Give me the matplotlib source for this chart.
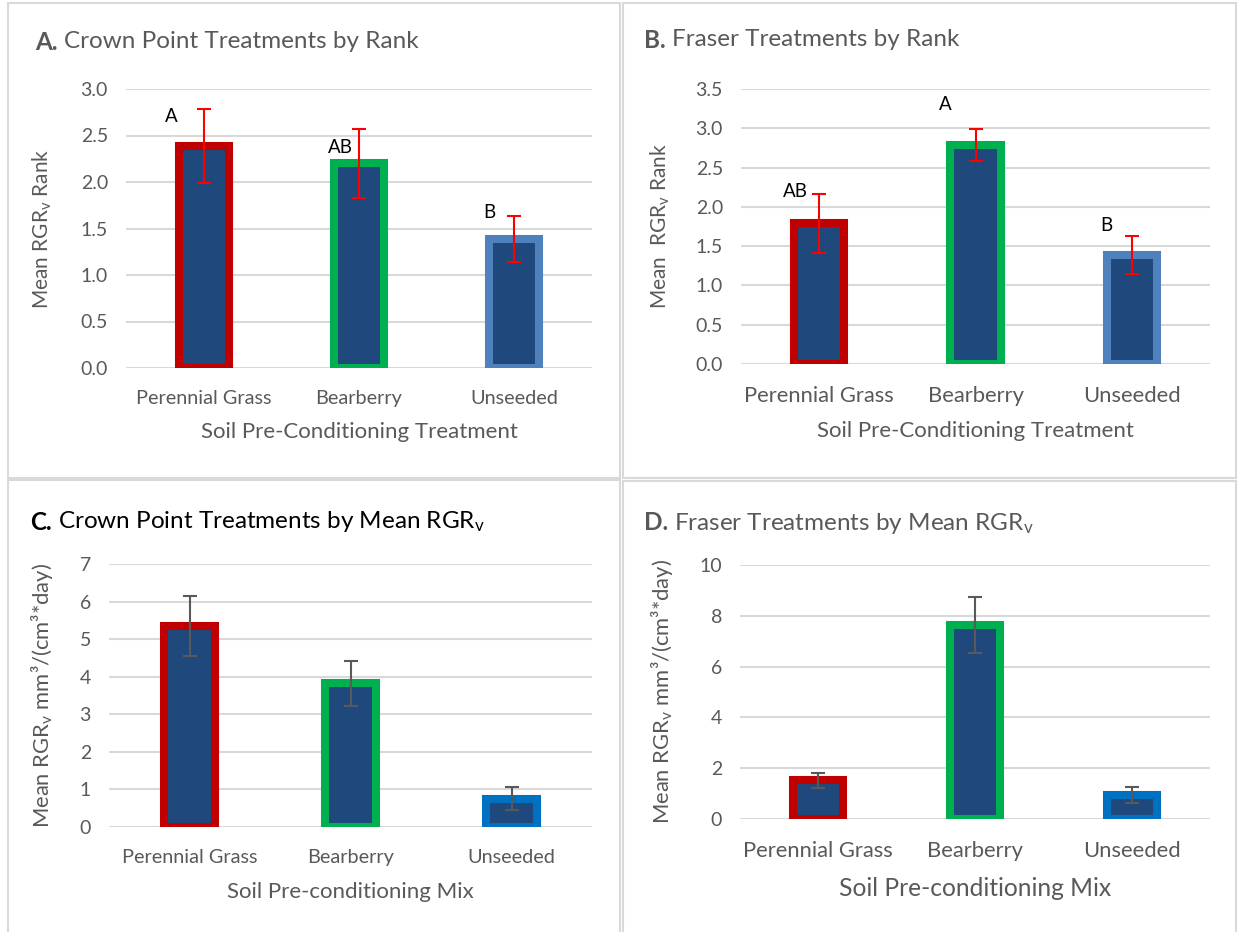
import matplotlib

matplotlib.use("Agg")
import matplotlib.pyplot as plt
from matplotlib.patches import Rectangle

W, H = 1238, 932

CATEGORIES = ["Perennial Grass", "Bearberry", "Unseeded"]

# panel A: Crown Point, by rank
RANK_CP = [2.39, 2.20, 1.39]
RANK_CP_ERR = [0.40, 0.37, 0.245]
RANK_CP_LETTERS = ["A", "AB", "B"]
RANK_CP_LETTER_POS = [(-0.21, 2.70), (0.88, 2.37), (1.84, 1.67)]

# panel B: Fraser, by rank
RANK_FR = [1.79, 2.79, 1.39]
RANK_FR_ERR = [0.375, 0.20, 0.245]
RANK_FR_LETTERS = ["AB", "A", "B"]
RANK_FR_LETTER_POS = [(-0.15, 2.19), (0.81, 3.30), (1.84, 1.76)]

# panel C: Crown Point, mean RGRv
RGR_CP = [5.35, 3.83, 0.75]
RGR_CP_ERR = [0.80, 0.60, 0.31]

# panel D: Fraser, mean RGRv
RGR_FR = [1.52, 7.63, 0.95]
RGR_FR_ERR = [0.30, 1.10, 0.31]

EDGE_TOP = ["#C00000", "#00B050", "#4F81BD"]
EDGE_BOTTOM = ["#C00000", "#00B050", "#0070C0"]
FILL = "#1F497D"
GREY = "#595959"
GRID = "#D9D9D9"
FONT = "Lato"

plt.rcParams.update({"font.family": FONT, "mathtext.fontset": "custom",
                     "mathtext.rm": FONT, "mathtext.it": FONT})


def box(x0, x1, ytop, ybot):
    return [x0 / W, 1 - ybot / H, (x1 - x0) / W, (ybot - ytop) / H]


def title(fig, x, y, lead, rest, color, size=17.5):
    t = fig.text(x / W, 1 - y / H, lead, fontsize=size, fontweight="bold",
                 color=color, ha="left", va="center")
    r = fig.canvas.get_renderer()
    bb = t.get_window_extent(renderer=r)
    fig.text((bb.x1 + 6) / W, 1 - y / H, rest, fontsize=size, color=color,
             ha="left", va="center")


def panel(fig, rect, vals, errs, edges, ecolor, ylim, yticks, fmt, ylabel,
          xlabel, ylabel_x, xtick_size, xlabel_size, ylabel_size,
          letters=None, letter_pos=None):
    ax = fig.add_axes(rect)
    x = list(range(len(CATEGORIES)))
    ax.bar(x, vals, width=0.32, color=FILL, edgecolor=edges, linewidth=5.8,
           zorder=2)
    ax.errorbar(x, vals, yerr=errs, fmt="none", ecolor=ecolor, elinewidth=1.5,
                capsize=5, capthick=1.5, zorder=3)
    ax.set_xlim(-0.5, 2.5)
    ax.set_ylim(*ylim)
    ax.set_yticks(yticks)
    ax.set_yticklabels([fmt.format(v) for v in yticks])
    ax.set_xticks(x)
    ax.set_xticklabels(CATEGORIES)
    ax.tick_params(length=0, colors=GREY)
    ax.tick_params(axis="y", pad=13, labelsize=14)
    ax.tick_params(axis="x", pad=16, labelsize=xtick_size)
    ax.grid(axis="y", color=GRID, linewidth=1.5, zorder=0)
    ax.set_axisbelow(True)
    for s in ax.spines.values():
        s.set_visible(False)
    ax.set_xlabel(xlabel, fontsize=xlabel_size, color=GREY, labelpad=11)
    ax.set_ylabel(ylabel, fontsize=ylabel_size, color=GREY)
    # label coords anchor the right-hand side of the rotated text
    ax.yaxis.set_label_coords((ylabel_x + 9 - rect[0] * W) / (rect[2] * W), 0.5)
    if letters:
        for lab, (lx, ly) in zip(letters, letter_pos):
            ax.text(lx, ly, lab, ha="center", va="center", fontsize=13.5,
                    color="black")
    return ax


fig = plt.figure(figsize=(W / 100, H / 100), dpi=100)

# panel frames
for x0, y0, x1, y1 in [(8, 3, 620, 478), (623, 3, 1236, 478),
                       (8, 480, 620, 940), (623, 481, 1236, 940)]:
    fig.add_artist(Rectangle((x0 / W, 1 - y1 / H), (x1 - x0) / W, (y1 - y0) / H,
                             transform=fig.transFigure, fill=False,
                             edgecolor=GRID, linewidth=1.5))

panel(fig, box(126, 592, 89, 368), RANK_CP, RANK_CP_ERR, EDGE_TOP, "#FF0000",
      (0, 3.0), [0, 0.5, 1.0, 1.5, 2.0, 2.5, 3.0], "{:.1f}",
      r"Mean RGR$_\mathregular{v}$ Rank", "Soil Pre-Conditioning Treatment", 45,
      14.3, 16, 15, RANK_CP_LETTERS, RANK_CP_LETTER_POS)
title(fig, 35, 42, "A.", "Crown Point Treatments by Rank", GREY)

panel(fig, box(741, 1210, 89, 364), RANK_FR, RANK_FR_ERR, EDGE_TOP, "#FF0000",
      (0, 3.5), [0, 0.5, 1.0, 1.5, 2.0, 2.5, 3.0, 3.5], "{:.1f}",
      r"Mean  RGR$_\mathregular{v}$ Rank", "Soil Pre-Conditioning Treatment", 663,
      15.8, 16, 15, RANK_FR_LETTERS, RANK_FR_LETTER_POS)
title(fig, 644, 40, "B.", "Fraser Treatments by Rank", GREY)

panel(fig, box(109, 592, 564, 827), RGR_CP, RGR_CP_ERR, EDGE_BOTTOM, GREY,
      (0, 7), list(range(0, 8)), "{:d}",
      r"Mean RGR$_\mathregular{v}$ mm³/(cm³*day)", "Soil Pre-conditioning Mix", 46,
      14.3, 16, 15.8)
title(fig, 30, 522, "C.", r"Crown Point Treatments by Mean RGR$_\mathregular{v}$",
      "black")

panel(fig, box(740, 1210, 565, 819), RGR_FR, RGR_FR_ERR, EDGE_BOTTOM, GREY,
      (0, 10), [0, 2, 4, 6, 8, 10], "{:d}",
      r"Mean RGR$_\mathregular{v}$ mm³/(cm³*day)", "Soil Pre-conditioning Mix", 666,
      15.8, 17.7, 15.8)
title(fig, 644, 523, "D.", r"Fraser Treatments by Mean RGR$_\mathregular{v}$", GREY)

fig.savefig("out.png", dpi=100, facecolor="white")
